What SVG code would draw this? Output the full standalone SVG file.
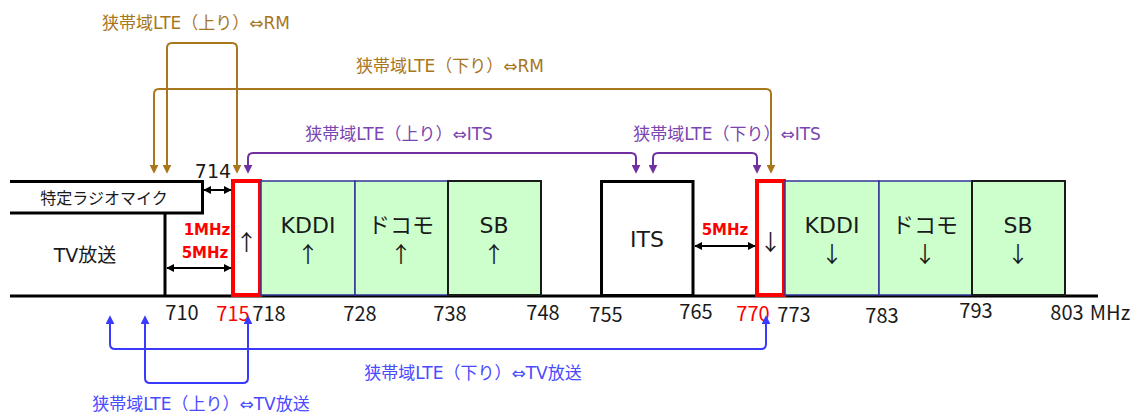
<svg xmlns="http://www.w3.org/2000/svg" width="1140" height="412" viewBox="0 0 1140 412">
<defs>
<style>
.t{font-family:"DejaVu Sans","Noto Sans CJK JP",sans-serif;}
.j{font-family:"Noto Sans CJK JP",sans-serif;}
.lbl{font-size:17px;text-anchor:middle;}
.tick{font-family:"Noto Sans CJK JP",sans-serif;font-size:20px;fill:#1a1a1a;text-anchor:middle;}
.red{fill:#ff0000;}
.bx{font-size:22px;fill:#1a1a1a;text-anchor:middle;}
.arr{font-size:22px;fill:#1a1a1a;text-anchor:middle;}
.g{fill:#ccffcc;stroke:#333399;stroke-width:1.5;}
.gk{fill:#ccffcc;stroke:#1a1a1a;stroke-width:2;}
.rb{fill:#ffffff;stroke:#ff0000;stroke-width:4;}
.k{fill:none;stroke:#000;stroke-width:3;}
.c{fill:none;stroke-width:2;}
.br{stroke:#a8761c;}
.pu{stroke:#7030a0;}
.bl{stroke:#3a3aff;}
.dk{fill:none;stroke:#000;stroke-width:2;}
</style>
<marker id="mbr" viewBox="0 0 10 10" refX="8" refY="5" markerWidth="9" markerHeight="9" markerUnits="userSpaceOnUse" orient="auto-start-reverse"><path d="M0,0 L10,5 L0,10 z" fill="#a8761c"/></marker>
<marker id="mpu" viewBox="0 0 10 10" refX="8" refY="5" markerWidth="9" markerHeight="9" markerUnits="userSpaceOnUse" orient="auto-start-reverse"><path d="M0,0 L10,5 L0,10 z" fill="#7030a0"/></marker>
<marker id="mbl" viewBox="0 0 10 10" refX="8" refY="5" markerWidth="9" markerHeight="9" markerUnits="userSpaceOnUse" orient="auto-start-reverse"><path d="M0,0 L10,5 L0,10 z" fill="#3a3aff"/></marker>
<marker id="mk" viewBox="0 0 10 10" refX="9" refY="5" markerWidth="8" markerHeight="8" markerUnits="userSpaceOnUse" orient="auto-start-reverse"><path d="M0,0 L10,5 L0,10 z" fill="#000"/></marker>
</defs>
<rect width="1140" height="412" fill="#ffffff"/>

<g id="baseline">
<line x1="10" y1="296" x2="1098" y2="296" stroke="#000" stroke-width="3"/>
</g>

<g id="node-rm">
<path class="k" d="M10,181.5 H202.5 V213 H10"/>
<text class="j" x="104" y="204" font-size="16" fill="#1a1a1a" text-anchor="middle">特定ラジオマイク</text>
</g>

<g id="node-tv">
<path class="k" d="M165,213 V296"/>
<text class="t" x="85" y="262" font-size="19" fill="#1a1a1a" text-anchor="middle">TV放送</text>
</g>

<g id="node-up-nb">
<rect class="rb" x="233" y="181" width="27" height="114"/>
<text class="j arr" x="246.5" y="250" font-size="28">↑</text>
</g>
<g id="node-kddi-up">
<rect class="g" x="261" y="181" width="94" height="114"/>
<text class="t bx" x="308" y="233">KDDI</text>
<text class="j arr" x="308" y="262">↑</text>
</g>
<g id="node-docomo-up">
<rect class="g" x="355" y="181" width="93" height="114"/>
<text class="j bx" x="401" y="233" font-size="17">ドコモ</text>
<text class="j arr" x="401" y="262">↑</text>
</g>
<g id="node-sb-up">
<rect class="gk" x="448" y="181" width="93" height="114"/>
<text class="t bx" x="494" y="233">SB</text>
<text class="j arr" x="494" y="262">↑</text>
</g>

<g id="node-its">
<rect x="601.5" y="181.5" width="91.5" height="114" fill="#fff" stroke="#000" stroke-width="3"/>
<text class="t bx" x="647" y="247">ITS</text>
</g>

<g id="node-down-nb">
<rect class="rb" x="757" y="181" width="27" height="114"/>
<text class="j arr" x="770.5" y="250" font-size="30">↓</text>
</g>
<g id="node-kddi-down">
<rect class="g" x="785" y="181" width="94" height="114"/>
<text class="t bx" x="832" y="233">KDDI</text>
<text class="j arr" x="832" y="262">↓</text>
</g>
<g id="node-docomo-down">
<rect class="g" x="879" y="181" width="93" height="114"/>
<text class="j bx" x="925" y="233" font-size="17">ドコモ</text>
<text class="j arr" x="925" y="262">↓</text>
</g>
<g id="node-sb-down">
<rect class="gk" x="972" y="181" width="93" height="114"/>
<text class="t bx" x="1018" y="233">SB</text>
<text class="j arr" x="1018" y="262">↓</text>
</g>

<g id="gaps">
<line class="dk" x1="204" y1="190" x2="231" y2="190" marker-start="url(#mk)" marker-end="url(#mk)"/>
<line class="dk" x1="167" y1="268" x2="231" y2="268" marker-start="url(#mk)" marker-end="url(#mk)"/>
<line class="dk" x1="695" y1="246" x2="755" y2="246" marker-start="url(#mk)" marker-end="url(#mk)"/>
<text class="t" x="213" y="178" font-size="19" fill="#1a1a1a" text-anchor="middle">714</text>
<text class="t red" x="207" y="235" font-size="15" font-weight="bold" text-anchor="middle">1MHz</text>
<text class="t red" x="205" y="258" font-size="15" font-weight="bold" text-anchor="middle">5MHz</text>
<text class="t red" x="725" y="235" font-size="15" font-weight="bold" text-anchor="middle">5MHz</text>
</g>

<g id="ticks">
<text class="tick" x="182" y="320">710</text>
<text class="tick red" x="233" y="321">715</text>
<text class="tick" x="269" y="321">718</text>
<text class="tick" x="360" y="321">728</text>
<text class="tick" x="450" y="321">738</text>
<text class="tick" x="543" y="320">748</text>
<text class="tick" x="606" y="322">755</text>
<text class="tick" x="696" y="319">765</text>
<text class="tick red" x="753" y="321">770</text>
<text class="tick" x="794" y="322">773</text>
<text class="tick" x="882" y="323">783</text>
<text class="tick" x="976" y="318">793</text>
<text class="tick" x="1067" y="320">803</text>
<text class="tick" x="1110" y="320">MHz</text>
</g>

<g id="connectors">
<path class="c br" d="M167,172 V48 Q167,43 172,43 H232 Q237,43 237,48 V172" marker-start="url(#mbr)" marker-end="url(#mbr)"/>
<path class="c br" d="M154,172 V94 Q154,89 159,89 H766 Q771,89 771,94 V172" marker-start="url(#mbr)" marker-end="url(#mbr)"/>
<path class="c pu" d="M248,172 V158 Q248,153 253,153 H631 Q636,153 636,158 V172" marker-start="url(#mpu)" marker-end="url(#mpu)"/>
<path class="c pu" d="M653,172 V158 Q653,153 658,153 H752 Q757,153 757,158 V172" marker-start="url(#mpu)" marker-end="url(#mpu)"/>
<path class="c bl" d="M110,317 V344 Q110,349 115,349 H761 Q766,349 766,344 V317" marker-start="url(#mbl)" marker-end="url(#mbl)"/>
<path class="c bl" d="M145,317 V378 Q145,383 150,383 H243 Q248,383 248,378 V317" marker-start="url(#mbl)" marker-end="url(#mbl)"/>
</g>

<g id="labels">
<text class="t lbl" x="196" y="29" fill="#a8761c">狭帯域LTE（上り）⇔RM</text>
<text class="t lbl" x="450" y="72" fill="#a8761c">狭帯域LTE（下り）⇔RM</text>
<text class="t lbl" x="399" y="140" fill="#7a45b0">狭帯域LTE（上り）⇔ITS</text>
<text class="t lbl" x="727" y="140" fill="#7a45b0">狭帯域LTE（下り）⇔ITS</text>
<text class="t lbl" x="473" y="379" fill="#4a4aff">狭帯域LTE（下り）⇔TV放送</text>
<text class="t lbl" x="201" y="410" fill="#4a4aff">狭帯域LTE（上り）⇔TV放送</text>
</g>
</svg>
